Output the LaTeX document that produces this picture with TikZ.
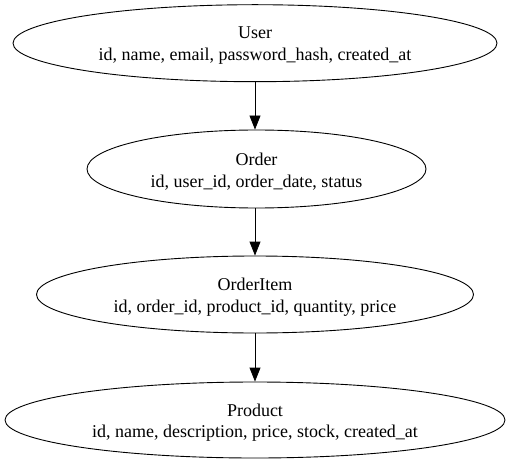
\documentclass[tikz,border=0pt]{standalone}
\usepackage{fontspec}
\setmainfont{Liberation Serif}
\usetikzlibrary{shapes.geometric,arrows.meta}
\begin{document}
\begin{tikzpicture}[x=1pt,y=1pt,
  entity/.style={ellipse, draw=black, line width=0.9pt, inner sep=0pt},
  entitytext/.style={align=center, inner sep=0pt, yshift=-2.5pt,
    font=\fontsize{18}{21.5}\selectfont},
  link/.style={line width=0.9pt, -{Triangle[length=14pt,width=11pt]}}]
\useasboundingbox (0,0) rectangle (510,464);
\node[entity, minimum width=484pt, minimum height=77pt,
  label={[entitytext]center:User\\id, name, email, password\_hash, created\_at}] (user) at (255,420.8) {};
\node[entity, minimum width=339pt, minimum height=78pt,
  label={[entitytext]center:Order\\id, user\_id, order\_date, status}] (order) at (256.5,295) {};
\node[entity, minimum width=437pt, minimum height=77pt,
  label={[entitytext]center:OrderItem\\id, order\_id, product\_id, quantity, price}] (item) at (255,169.5) {};
\node[entity, minimum width=500pt, minimum height=76pt,
  label={[entitytext]center:Product\\id, name, description, price, stock, created\_at}] (product) at (255,44) {};
\draw[link] (user.south -| 255,0) -- (order.north -| 255,0);
\draw[link] (order.south -| 255,0) -- (item.north);
\draw[link] (item.south) -- (product.north);
\end{tikzpicture}
\end{document}
